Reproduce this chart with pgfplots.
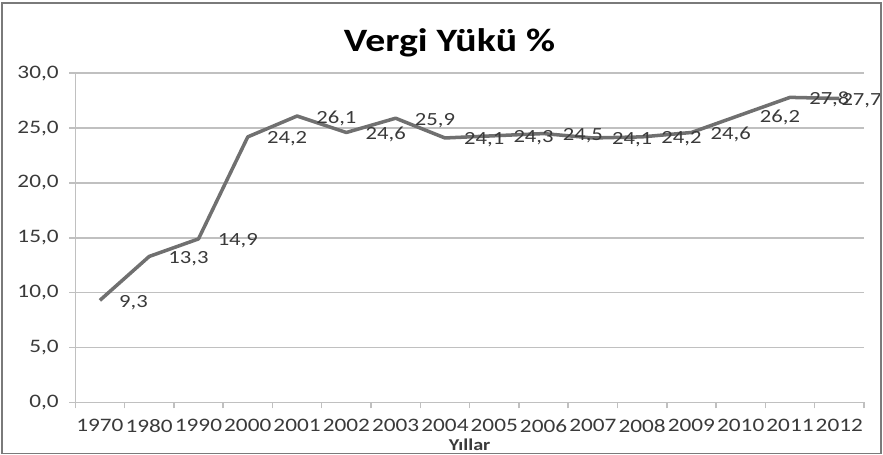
\documentclass[border=0pt]{standalone}
\usepackage{fontspec}
\setmainfont{Carlito}[FakeStretch=1.22]
\usepackage{pgfplots}
\pgfplotsset{compat=1.18}
\definecolor{linegray}{HTML}{707070}
\definecolor{gridgray}{HTML}{C0C0C0}
\definecolor{textgray}{HTML}{3A3A3A}
\definecolor{framegray}{HTML}{7A7A7A}

\begin{document}
\begin{tikzpicture}
\begin{axis}[
  name=ax,
  scale only axis,
  width=786pt, height=328pt,
  xmin=-0.5, xmax=15.5,
  ymin=0, ymax=30,
  clip=false,
  axis x line=bottom, axis y line=left,
  axis line style={-, draw=gridgray, line width=1.5pt},
  xtick={0,...,15},
  xticklabels={1970,1980,1990,2000,2001,2002,2003,2004,2005,2006,2007,2008,2009,2010,2011,2012},
  major x tick style={draw=none},
  minor xtick={-0.5,0.5,...,15.5},
  ytick={0,5,...,30},
  tick align=outside,
  major tick length=6pt, minor tick length=6pt,
  tick style={draw=gridgray, line width=1.5pt},
  ymajorgrids,
  grid style={draw=gridgray, line width=1.5pt},
  ticklabel style={font=\fontsize{19}{21}\selectfont, text=textgray},
  xticklabel style={yshift=-7.5pt},
  yticklabel style={xshift=-7pt, /pgf/number format/.cd, fixed, fixed zerofill, precision=1, use comma, assume math mode=true},
  xlabel={Yıllar},
  xlabel style={at={(axis description cs:0.5,0)}, anchor=base, yshift=-47.5pt,
                font=\bfseries\fontsize{16.5}{18}\selectfont, text=textgray},
  every node near coord/.append style={anchor=west, inner sep=0pt, yshift=-2pt,
                font=\fontsize{18.5}{20}\selectfont, text=textgray},
  lbl/.style={nodes near coords={\pgfmathprintnumber[fixed, fixed zerofill, precision=1, use comma, assume math mode=true]{\pgfplotspointmeta}},
              draw=none, mark=none, every node near coord/.append style={xshift=#1}},
]
  %% Vergi yükü, yüzde
  \addplot[linegray, line width=3.5pt, line join=round, mark=none] coordinates {
    (0, 9.3) (1, 13.3) (2, 14.9) (3, 24.2) (4, 26.1) (5, 24.6) (6, 25.9) (7, 24.1)
    (8, 24.3) (9, 24.5) (10, 24.1) (11, 24.2) (12, 24.6) (13, 26.2) (14, 27.8) (15, 27.7)
  };
  %% etiketler
  \addplot[lbl=19pt] coordinates {
    (0, 9.3) (1, 13.3) (2, 14.9) (3, 24.2) (4, 26.1) (5, 24.6) (6, 25.9) (7, 24.1)
    (8, 24.3) (9, 24.5) (10, 24.1) (11, 24.2) (12, 24.6) (13, 26.2) (14, 27.8)
  };
  \addplot[lbl=2pt] coordinates {(15, 27.7)};
\end{axis}
\node[anchor=base, font=\bfseries\fontsize{32.5}{35}\selectfont]
  at ([xshift=373pt, yshift=350pt]ax.south west) {Vergi Yükü \%};
\draw[framegray, line width=1.5pt]
  ([shift={(-73pt,-51pt)}]ax.south west) rectangle ([shift={(17pt,70pt)}]ax.north east);
\pgfresetboundingbox
\path[use as bounding box]
  ([shift={(-75pt,-52pt)}]ax.south west) rectangle ([shift={(19pt,73pt)}]ax.north east);
\end{tikzpicture}
\end{document}
